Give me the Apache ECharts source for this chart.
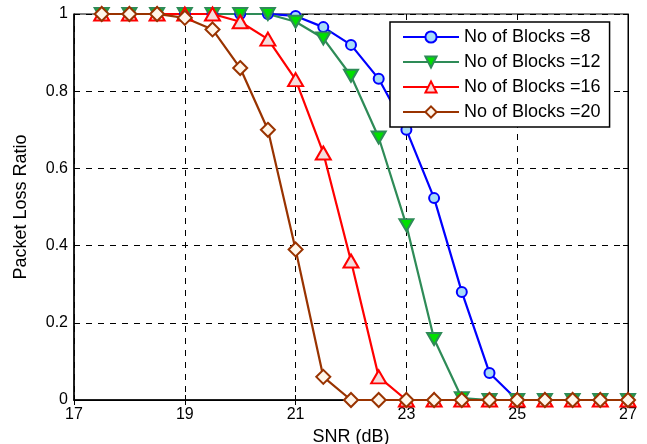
<!DOCTYPE html>
<html><head><meta charset="utf-8">
<script src="https://cdn.jsdelivr.net/npm/echarts@6/dist/echarts.min.js"></script>
<style>html,body{margin:0;padding:0;background:#fff}#c{width:647px;height:444px}</style>
</head><body><div id="c"></div>
<script>
var snr = [17.5,18,18.5,19,19.5,20,20.5,21,21.5,22,22.5,23,23.5,24,24.5,25,25.5,26,26.5,27];
var blocks8  = [1,1,1,1,1,1,1,0.995,0.966,0.92,0.832,0.70,0.523,0.28,0.07,0,0,0,0,0];
var blocks12 = [1,1,1,1,1,1,1,0.98,0.937,0.84,0.68,0.453,0.158,0.005,0,0,0,0,0,0];
var blocks16 = [1,1,1,1,1,0.98,0.935,0.83,0.64,0.36,0.06,0,0,0,0,0,0,0,0,0];
var blocks20 = [1,1,1,0.99,0.96,0.86,0.70,0.39,0.06,0,0,0,0,0,0,0,0,0,0,0];
var names = ['No of Blocks =8','No of Blocks =12','No of Blocks =16','No of Blocks =20'];
var xTicks = [17,19,21,23,25,27];
var yTicks = [0,0.2,0.4,0.6,0.8,1];

function pairs(v){ return snr.map(function(x,i){ return [x, v[i]]; }); }
var font = 'Liberation Sans, Arial, sans-serif';
var chart = echarts.init(document.getElementById('c'));
var gridLine = {show:true, lineStyle:{color:'#000', type:[6,6], width:1}};
chart.setOption({
  animation:false,
  backgroundColor:'#fff',
  grid:{left:74, right:19, top:14, bottom:44, show:true, borderColor:'#000', borderWidth:1,
        containLabel:false, outerBoundsMode:'none'},
  legend:{
    orient:'vertical', left:390, top:22,
    backgroundColor:'#fff', borderColor:'#000', borderWidth:1.5,
    padding:[6,9,6,12], itemGap:7, itemWidth:56, itemHeight:14,
    textStyle:{fontFamily:font, fontSize:18, color:'#000'},
    data:names
  },
  xAxis:[{
    type:'value', min:xTicks[0], max:xTicks[xTicks.length-1], interval:2,
    name:'SNR (dB)', nameLocation:'middle', nameGap:26,
    nameTextStyle:{fontFamily:font, fontSize:18, color:'#000'},
    axisLine:{show:true, lineStyle:{color:'#000', width:1.5}},
    axisTick:{show:true, inside:true, length:5, lineStyle:{color:'#000'}},
    axisLabel:{fontFamily:font, fontSize:16, color:'#000', margin:7},
    splitLine:gridLine
  },{
    type:'value', position:'top', min:17, max:27, interval:2,
    axisLine:{show:true, lineStyle:{color:'#000'}},
    axisTick:{show:true, inside:true, length:5, lineStyle:{color:'#000'}},
    axisLabel:{show:false}, splitLine:{show:false}
  }],
  yAxis:[{
    type:'value', min:yTicks[0], max:yTicks[yTicks.length-1], interval:0.2,
    name:'Packet Loss Ratio', nameLocation:'middle', nameGap:44,
    nameTextStyle:{fontFamily:font, fontSize:18, color:'#000'},
    axisLine:{show:true, lineStyle:{color:'#000', width:1.5}},
    axisTick:{show:true, inside:true, length:5, lineStyle:{color:'#000'}},
    axisLabel:{fontFamily:font, fontSize:16, color:'#000', margin:6},
    splitLine:gridLine
  },{
    type:'value', position:'right', min:0, max:1, interval:0.2,
    axisLine:{show:true, lineStyle:{color:'#000'}},
    axisTick:{show:true, inside:true, length:5, lineStyle:{color:'#000'}},
    axisLabel:{show:false}, splitLine:{show:false}
  }],
  series:[
    {name:names[0], type:'line', data:pairs(blocks8), symbol:'circle', symbolSize:10,
     lineStyle:{color:'#0000ff', width:2.2},
     itemStyle:{color:'#a8dcf8', borderColor:'#0000ff', borderWidth:2}},
    {name:names[1], type:'line', data:pairs(blocks12), symbol:'triangle', symbolRotate:180, symbolSize:[14,12],
     lineStyle:{color:'#2e8b57', width:2.2},
     itemStyle:{color:'#00e000', borderColor:'#2e8b57', borderWidth:2}},
    {name:names[2], type:'line', data:pairs(blocks16), symbol:'triangle', symbolSize:[15,13],
     lineStyle:{color:'#ff0000', width:2.2},
     itemStyle:{color:'#f4dcdc', borderColor:'#ff0000', borderWidth:2}},
    {name:names[3], type:'line', data:pairs(blocks20), symbol:'diamond', symbolSize:[14,14],
     lineStyle:{color:'#993300', width:2.2},
     itemStyle:{color:'#fff6ea', borderColor:'#993300', borderWidth:2}}
  ]
});
</script></body></html>
